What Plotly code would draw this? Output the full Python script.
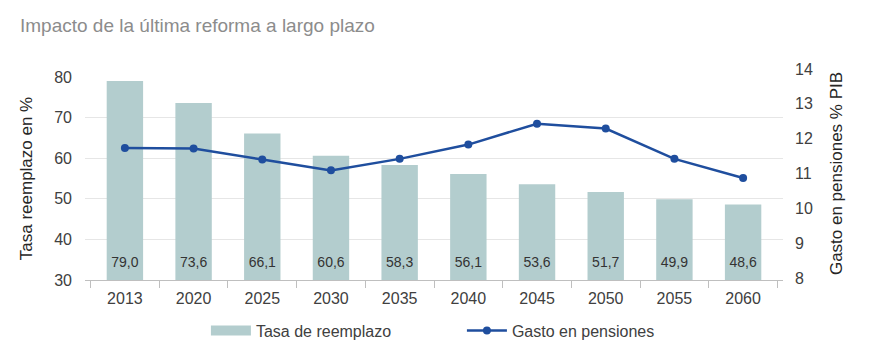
import plotly.graph_objects as go

years = ["2013", "2020", "2025", "2030", "2035", "2040", "2045", "2050", "2055", "2060"]
tasa_reemplazo = [79.0, 73.6, 66.1, 60.6, 58.3, 56.1, 53.6, 51.7, 49.9, 48.6]
gasto_pensiones = [11.73, 11.72, 11.40, 11.09, 11.42, 11.83, 12.43, 12.29, 11.42, 10.87]

BAR_COLOR = "#B3CDCE"
LINE_COLOR = "#1F4E9E"
TEXT_COLOR = "#404040"
FONT = "Liberation Sans, Arial, sans-serif"
LABEL_Y = 34.0

# page body has an 8px margin, so the figure is sized/placed to compensate
W, H = 878, 351
M_L, M_R, M_T, M_B = 77, 103, 61, 79
plot_h = H - M_T - M_B
left_top = (plot_h - 8) / plot_h
right_bottom = 2 / plot_h

labels = [f"{v:.1f}".replace(".", ",") for v in tasa_reemplazo]

fig = go.Figure()
fig.add_trace(go.Bar(
    x=years, y=tasa_reemplazo, name="Tasa de reemplazo",
    marker=dict(color=BAR_COLOR, line=dict(width=0)),
    showlegend=False, xaxis="x", yaxis="y",
))
fig.add_trace(go.Scatter(
    x=years, y=[LABEL_Y] * len(years), mode="text", text=labels,
    textfont=dict(family=FONT, size=14, color="#333333"),
    showlegend=False, hoverinfo="skip", xaxis="x", yaxis="y",
))
# legend proxy for bars (wide swatch)
fig.add_trace(go.Scatter(
    x=[None], y=[None], mode="lines", name="Tasa de reemplazo",
    line=dict(color=BAR_COLOR, width=10), xaxis="x", yaxis="y",
))
fig.add_trace(go.Scatter(
    x=years, y=gasto_pensiones, name="Gasto en pensiones", mode="lines+markers",
    line=dict(color=LINE_COLOR, width=2.5),
    marker=dict(color=LINE_COLOR, size=8),
    xaxis="x", yaxis="y2",
))

fig.update_layout(
    width=W, height=H,
    margin=dict(l=M_L, r=M_R, t=M_T, b=M_B, autoexpand=False),
    paper_bgcolor="white", plot_bgcolor="rgba(0,0,0,0)",
    font=dict(family=FONT, size=16, color=TEXT_COLOR),
    bargap=0.47,
    title=dict(text="Impacto de la última reforma a largo plazo",
               x=0, xref="container", xanchor="left", y=1, yref="container", yanchor="top",
               pad=dict(l=12, t=11),
               font=dict(family=FONT, size=19, color="#8C8C8C")),
    xaxis=dict(
        type="category", anchor="y", automargin=False,
        showline=True, linecolor="#BFBFBF", linewidth=1,
        ticks="outside", tickson="boundaries", ticklen=7, tickcolor="#BFBFBF",
        ticklabelstandoff=4,
        showgrid=False, tickfont=dict(size=16, color=TEXT_COLOR),
    ),
    yaxis=dict(
        domain=[0, left_top], range=[30, 80], dtick=10,
        showgrid=True, gridcolor="#E6E6E6", gridwidth=1,
        zeroline=False, showline=False, ticks="",
        ticklabelstandoff=12, tickfont=dict(size=16, color=TEXT_COLOR),
        title=dict(text="Tasa reemplazo en %", standoff=17,
                   font=dict(size=17, color="#262626")),
        automargin=False,
    ),
    yaxis2=dict(
        domain=[right_bottom, 1], range=[8, 14], dtick=1,
        anchor="x", side="right",
        showgrid=False, zeroline=False, showline=False, ticks="",
        ticklabelstandoff=11, tickfont=dict(size=16, color=TEXT_COLOR),
        title=dict(text="Gasto en pensiones % PIB", standoff=18,
                   font=dict(size=17, color="#262626")),
        automargin=False,
    ),
    legend=dict(
        orientation="h", x=0.54, xanchor="center", y=-0.24, yanchor="middle",
        font=dict(size=16, color=TEXT_COLOR),
        entrywidth=201, entrywidthmode="pixels",
        itemwidth=40, bgcolor="rgba(0,0,0,0)",
    ),
    showlegend=True,
)

fig.write_html("out.html")
